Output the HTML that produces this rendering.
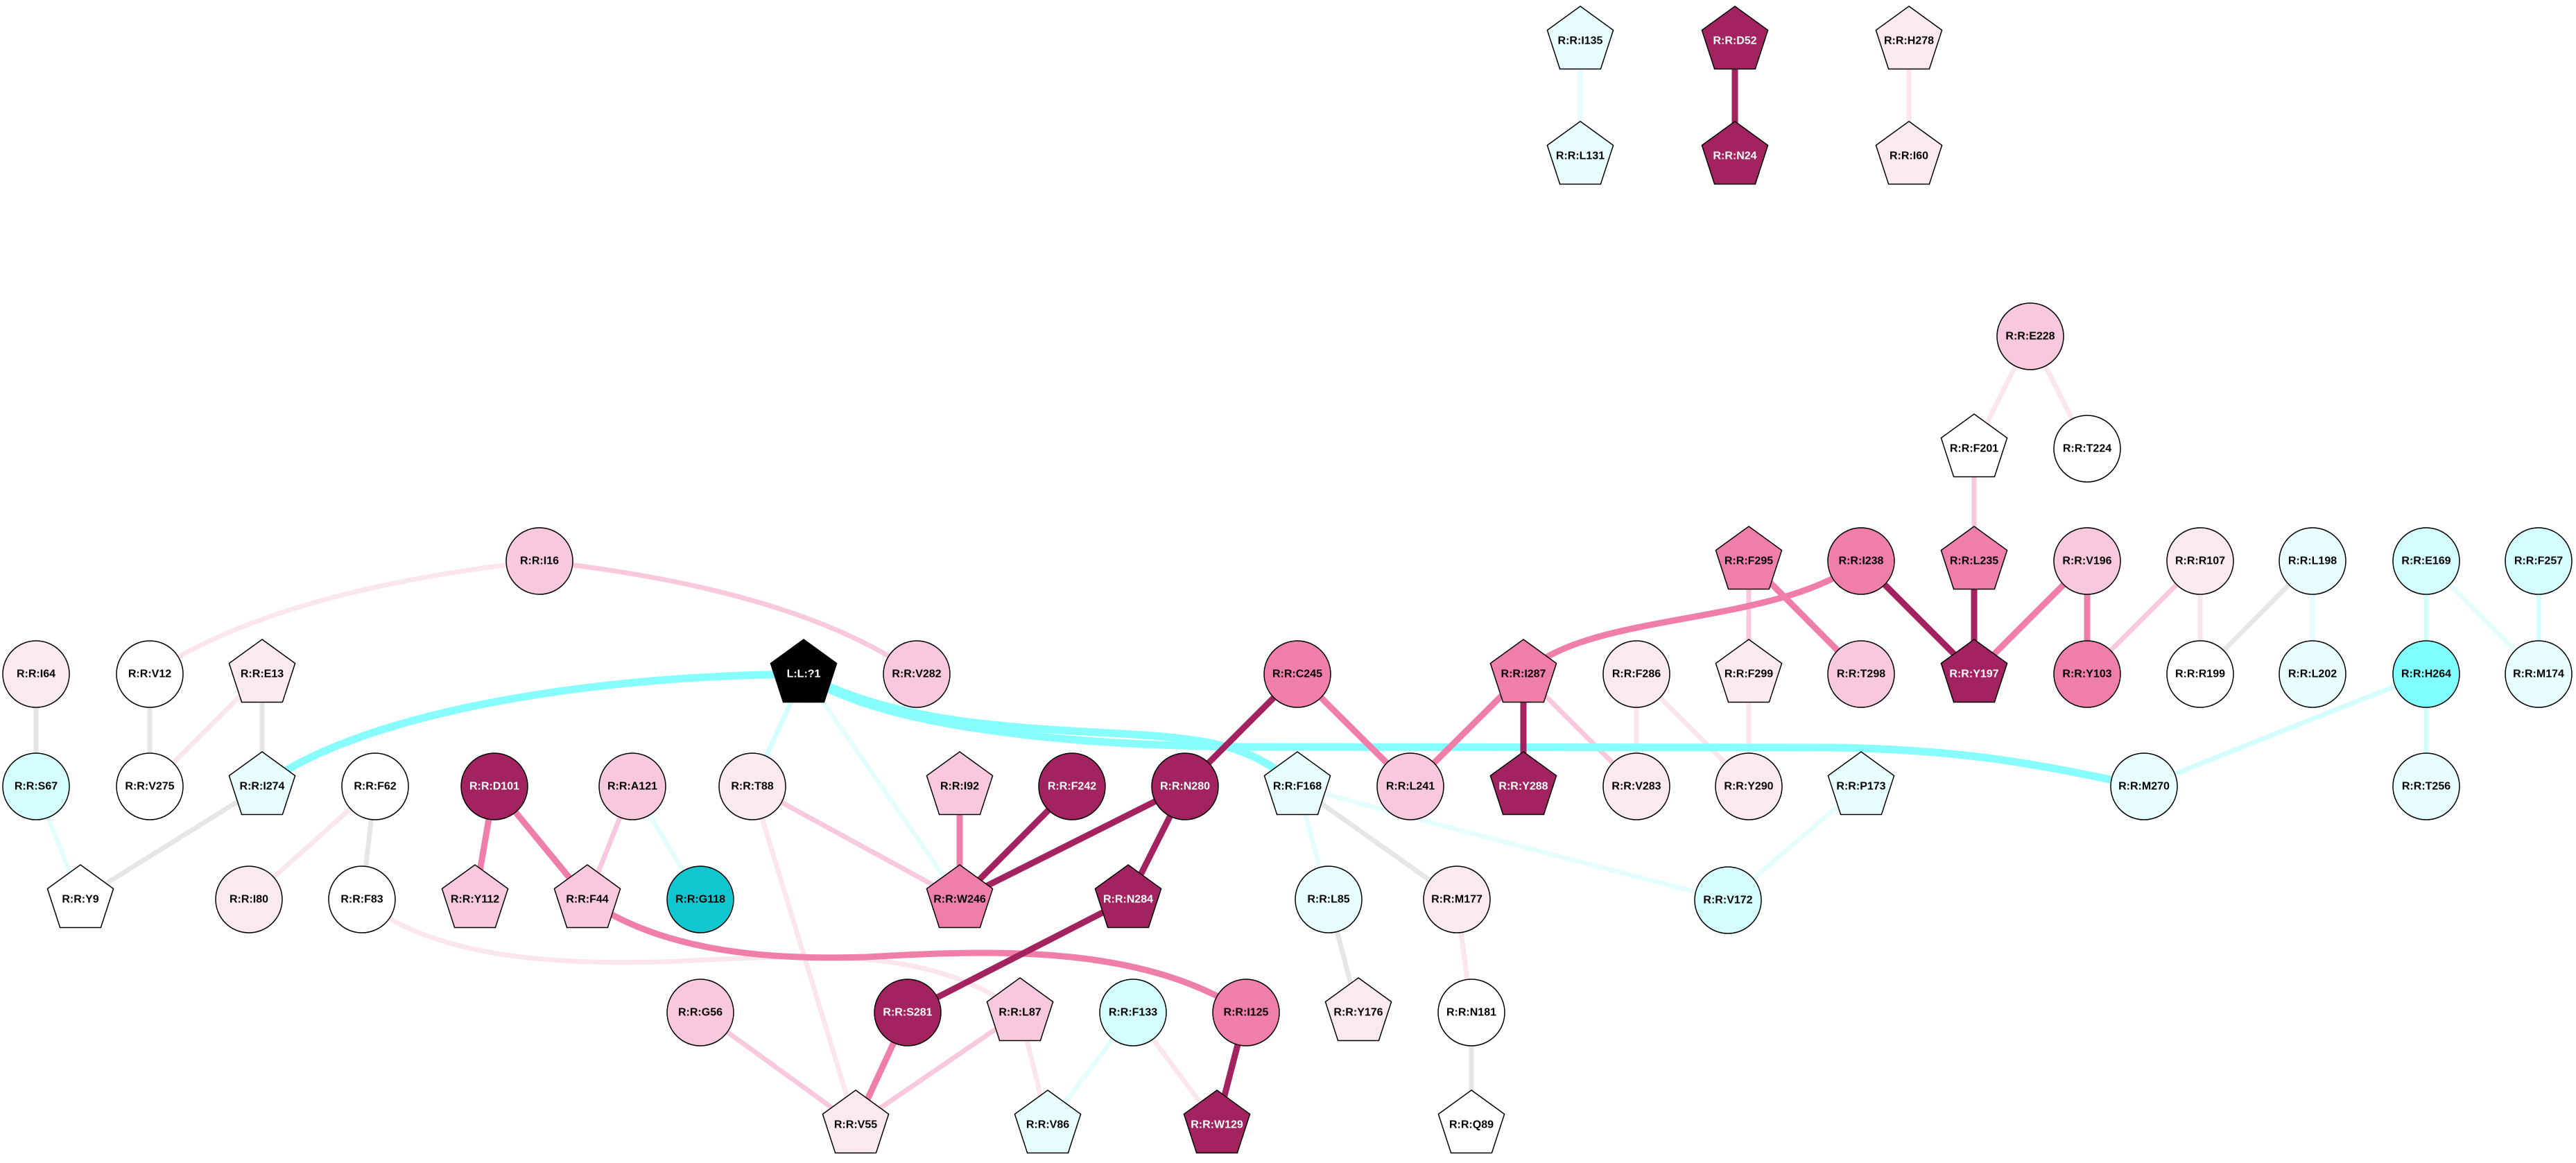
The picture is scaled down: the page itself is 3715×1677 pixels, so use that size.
<!DOCTYPE html>
<html><head><meta charset="utf-8"><style>
html,body{margin:0;padding:0;background:#fff}
svg{display:block}
text{font-family:"Liberation Sans",sans-serif;font-weight:bold;font-size:16px;text-anchor:middle;dominant-baseline:central}
.n{stroke:#000;stroke-width:1.5}
.e{fill:none;stroke-linecap:butt}
</style></head><body>
<svg width="3715" height="1677" viewBox="0 0 3715 1677" xmlns="http://www.w3.org/2000/svg">
<defs><polygon id="p" class="n" points="0,-50 47.6,-15.5 29.4,40.5 -29.4,40.5 -47.6,-15.5"/></defs>
<g class="e" stroke-width="7">
<!-- gray -->
<g stroke="#e6e6e6">
<line x1="52" y1="972" x2="52" y2="1134"/>
<line x1="216" y1="972" x2="216" y2="1134"/>
<line x1="378" y1="972" x2="378" y2="1134"/>
<line x1="378" y1="1134" x2="116" y2="1297"/>
<line x1="541" y1="1134" x2="522" y2="1297"/>
<line x1="1871" y1="1134" x2="2101" y2="1297"/>
<line x1="1916" y1="1297" x2="1959" y2="1460"/>
<line x1="2122" y1="1460" x2="2122" y2="1622"/>
<line x1="3335" y1="809" x2="3173" y2="972"/>
</g>
<!-- very light pink -->
<g stroke="#fbe6ee">
<line x1="378" y1="972" x2="216" y2="1134"/>
<path d="M778,809 Q400,850 216,972"/>
<line x1="541" y1="1134" x2="359" y2="1297"/>
<path d="M522,1297 C620,1380 800,1395 1000,1385 C1200,1375 1350,1370 1471,1460"/>
<line x1="1085" y1="1134" x2="1234" y2="1622"/>
<line x1="1471" y1="1460" x2="1511" y2="1622"/>
<line x1="1634" y1="1460" x2="1755" y2="1622"/>
<line x1="2101" y1="1297" x2="2122" y2="1460"/>
<line x1="2360" y1="972" x2="2360" y2="1134"/>
<line x1="2360" y1="972" x2="2522" y2="1134"/>
<line x1="2522" y1="972" x2="2522" y2="1134"/>
<line x1="3173" y1="809" x2="3173" y2="972"/>
<line x1="2928" y1="485" x2="2847" y2="647"/>
<line x1="2928" y1="485" x2="3010" y2="647"/>
<line x1="2753" y1="59" x2="2753" y2="225"/>
</g>
<!-- light pink -->
<g stroke="#f8c8dc">
<path d="M778,809 Q1150,850 1322,972"/>
<line x1="912" y1="1134" x2="847" y2="1297"/>
<line x1="1085" y1="1134" x2="1384" y2="1297"/>
<line x1="1010" y1="1460" x2="1234" y2="1622"/>
<line x1="1471" y1="1460" x2="1234" y2="1622"/>
<line x1="2197" y1="972" x2="2360" y2="1134"/>
<line x1="2522" y1="809" x2="2522" y2="972"/>
<line x1="3173" y1="809" x2="3010" y2="972"/>
<line x1="2847" y1="647" x2="2847" y2="809"/>
</g>
<!-- very light cyan -->
<g stroke="#e6fdfd">
<line x1="52" y1="1134" x2="116" y2="1297"/>
<line x1="912" y1="1134" x2="1010" y2="1297"/>
<line x1="1159" y1="972" x2="1384" y2="1297"/>
<line x1="1634" y1="1460" x2="1511" y2="1622"/>
<line x1="1871" y1="1134" x2="1916" y2="1297"/>
<path d="M1871,1134 Q2150,1210 2492,1298"/>
<line x1="2684" y1="1134" x2="2492" y2="1298"/>
<line x1="3335" y1="809" x2="3335" y2="972"/>
<line x1="3499" y1="809" x2="3661" y2="972"/>
<line x1="2279" y1="59" x2="2279" y2="225"/>
</g>
<!-- light cyan -->
<g stroke="#d4fdfd">
<line x1="1159" y1="972" x2="1085" y2="1134"/>
<line x1="3499" y1="809" x2="3499" y2="972"/>
<line x1="3661" y1="809" x2="3661" y2="972"/>
<line x1="3499" y1="972" x2="3499" y2="1134"/>
<path d="M3499,972 Q3300,1050 3092,1134"/>
</g>
</g>
<!-- cyan thick -->
<g class="e" stroke="#88fdfd" stroke-width="11">
<path d="M1159,972 C800,975 500,1040 378,1134"/>
<path d="M1159,972 C1250,1040 1500,1075 1800,1077 L2650,1078 C2850,1082 2950,1105 3092,1134"/>
<path d="M1159,972 C1300,1050 1500,1050 1650,1060 C1760,1068 1810,1080 1871,1134"/>
</g>
<!-- medium pink -->
<g class="e" stroke="#ef7ea9" stroke-width="9">
<line x1="713" y1="1134" x2="685" y2="1297"/>
<line x1="713" y1="1134" x2="847" y2="1297"/>
<path d="M847,1297 C950,1370 1100,1385 1250,1380 C1450,1368 1650,1365 1797,1460"/>
<line x1="1309" y1="1460" x2="1234" y2="1622"/>
<line x1="1384" y1="1134" x2="1384" y2="1297"/>
<line x1="1871" y1="972" x2="2034" y2="1134"/>
<line x1="2197" y1="972" x2="2034" y2="1134"/>
<path d="M2197,972 C2290,880 2560,905 2684,809"/>
<line x1="2522" y1="809" x2="2684" y2="972"/>
<line x1="3010" y1="809" x2="2847" y2="972"/>
<line x1="3010" y1="809" x2="3010" y2="972"/>
</g>
<!-- dark -->
<g class="e" stroke="#a2235f" stroke-width="9">
<line x1="1546" y1="1134" x2="1384" y2="1297"/>
<line x1="1709" y1="1134" x2="1384" y2="1297"/>
<line x1="1709" y1="1134" x2="1627" y2="1297"/>
<line x1="1871" y1="972" x2="1709" y2="1134"/>
<line x1="1627" y1="1297" x2="1309" y2="1460"/>
<line x1="1797" y1="1460" x2="1755" y2="1622"/>
<line x1="2197" y1="972" x2="2197" y2="1134"/>
<line x1="2684" y1="809" x2="2847" y2="972"/>
<line x1="2847" y1="809" x2="2847" y2="972"/>
<line x1="2502" y1="59" x2="2502" y2="225"/>
</g>

<!-- nodes -->
<g>
<ellipse class="n" cx="778" cy="809" rx="48" ry="48" fill="#f8c8dc"/><text x="778" y="809">R:R:I16</text>
<ellipse class="n" cx="52" cy="972" rx="48" ry="48" fill="#fbe9f1"/><text x="52" y="972">R:R:I64</text>
<ellipse class="n" cx="216" cy="972" rx="48" ry="48" fill="#fff"/><text x="216" y="972">R:R:V12</text>
<use href="#p" x="378" y="972" fill="#fbe9f1"/><text x="378" y="972">R:R:E13</text>
<use href="#p" x="1159" y="972" fill="#000"/><text x="1159" y="972" fill="#fff">L:L:?1</text>
<ellipse class="n" cx="1322" cy="972" rx="48" ry="48" fill="#f8c8dc"/><text x="1322" y="972">R:R:V282</text>
<ellipse class="n" cx="1871" cy="972" rx="48" ry="48" fill="#ef7ea9"/><text x="1871" y="972">R:R:C245</text>
<use href="#p" x="2197" y="972" fill="#ef7ea9"/><text x="2197" y="972">R:R:I287</text>
<ellipse class="n" cx="2360" cy="972" rx="48" ry="48" fill="#fbe9f1"/><text x="2360" y="972">R:R:F286</text>

<ellipse class="n" cx="52" cy="1134" rx="48" ry="48" fill="#d4fefe"/><text x="52" y="1134">R:R:S67</text>
<ellipse class="n" cx="216" cy="1134" rx="48" ry="48" fill="#fff"/><text x="216" y="1134">R:R:V275</text>
<use href="#p" x="378" y="1134" fill="#e8fefe"/><text x="378" y="1134">R:R:I274</text>
<ellipse class="n" cx="541" cy="1134" rx="48" ry="48" fill="#fff"/><text x="541" y="1134">R:R:F62</text>
<ellipse class="n" cx="713" cy="1134" rx="48" ry="48" fill="#a2235f"/><text x="713" y="1134" fill="#fff">R:R:D101</text>
<ellipse class="n" cx="912" cy="1134" rx="48" ry="48" fill="#f8c8dc"/><text x="912" y="1134">R:R:A121</text>
<ellipse class="n" cx="1085" cy="1134" rx="48" ry="48" fill="#fbe9f1"/><text x="1085" y="1134">R:R:T88</text>
<use href="#p" x="1384" y="1134" fill="#f8c8dc"/><text x="1384" y="1134">R:R:I92</text>
<ellipse class="n" cx="1546" cy="1134" rx="48" ry="48" fill="#a2235f"/><text x="1546" y="1134" fill="#fff">R:R:F242</text>
<ellipse class="n" cx="1709" cy="1134" rx="48" ry="48" fill="#a2235f"/><text x="1709" y="1134" fill="#fff">R:R:N280</text>
<use href="#p" x="1871" y="1134" fill="#e8fefe"/><text x="1871" y="1134">R:R:F168</text>
<ellipse class="n" cx="2034" cy="1134" rx="48" ry="48" fill="#f8c8dc"/><text x="2034" y="1134">R:R:L241</text>
<use href="#p" x="2197" y="1134" fill="#a2235f"/><text x="2197" y="1134" fill="#fff">R:R:Y288</text>
<ellipse class="n" cx="2360" cy="1134" rx="48" ry="48" fill="#fbe9f1"/><text x="2360" y="1134">R:R:V283</text>

<use href="#p" x="116" y="1297" fill="#fff"/><text x="116" y="1297">R:R:Y9</text>
<ellipse class="n" cx="359" cy="1297" rx="48" ry="48" fill="#fbe9f1"/><text x="359" y="1297">R:R:I80</text>
<ellipse class="n" cx="522" cy="1297" rx="48" ry="48" fill="#fff"/><text x="522" y="1297">R:R:F83</text>
<use href="#p" x="685" y="1297" fill="#f8c8dc"/><text x="685" y="1297">R:R:Y112</text>
<use href="#p" x="847" y="1297" fill="#f8c8dc"/><text x="847" y="1297">R:R:F44</text>
<ellipse class="n" cx="1010" cy="1297" rx="48" ry="48" fill="#10c6cf"/><text x="1010" y="1297">R:R:G118</text>
<use href="#p" x="1384" y="1297" fill="#ef7ea9"/><text x="1384" y="1297">R:R:W246</text>
<use href="#p" x="1627" y="1297" fill="#a2235f"/><text x="1627" y="1297" fill="#fff">R:R:N284</text>
<ellipse class="n" cx="1916" cy="1297" rx="48" ry="48" fill="#e8fefe"/><text x="1916" y="1297">R:R:L85</text>
<ellipse class="n" cx="2101" cy="1297" rx="48" ry="48" fill="#fbe9f1"/><text x="2101" y="1297">R:R:M177</text>
<ellipse class="n" cx="2492" cy="1298" rx="48" ry="48" fill="#d4fefe"/><text x="2492" y="1298">R:R:V172</text>

<ellipse class="n" cx="1010" cy="1460" rx="48" ry="48" fill="#f8c8dc"/><text x="1010" y="1460">R:R:G56</text>
<ellipse class="n" cx="1309" cy="1460" rx="48" ry="48" fill="#a2235f"/><text x="1309" y="1460" fill="#fff">R:R:S281</text>
<use href="#p" x="1471" y="1460" fill="#f8c8dc"/><text x="1471" y="1460">R:R:L87</text>
<ellipse class="n" cx="1634" cy="1460" rx="48" ry="48" fill="#d4fefe"/><text x="1634" y="1460">R:R:F133</text>
<ellipse class="n" cx="1797" cy="1460" rx="48" ry="48" fill="#ef7ea9"/><text x="1797" y="1460">R:R:I125</text>
<use href="#p" x="1959" y="1460" fill="#fbe9f1"/><text x="1959" y="1460">R:R:Y176</text>
<ellipse class="n" cx="2122" cy="1460" rx="48" ry="48" fill="#fff"/><text x="2122" y="1460">R:R:N181</text>

<use href="#p" x="1234" y="1622" fill="#fbe9f1"/><text x="1234" y="1622">R:R:V55</text>
<use href="#p" x="1511" y="1622" fill="#e8fefe"/><text x="1511" y="1622">R:R:V86</text>
<use href="#p" x="1755" y="1622" fill="#a2235f"/><text x="1755" y="1622" fill="#fff">R:R:W129</text>
<use href="#p" x="2122" y="1622" fill="#fff"/><text x="2122" y="1622">R:R:Q89</text>

<!-- right cluster -->
<ellipse class="n" cx="2928" cy="485" rx="48" ry="48" fill="#f8c8dc"/><text x="2928" y="485">R:R:E228</text>
<use href="#p" x="2847" y="647" fill="#fff"/><text x="2847" y="647">R:R:F201</text>
<ellipse class="n" cx="3010" cy="647" rx="48" ry="48" fill="#fff"/><text x="3010" y="647">R:R:T224</text>

<use href="#p" x="2522" y="809" fill="#ef7ea9"/><text x="2522" y="809">R:R:F295</text>
<ellipse class="n" cx="2684" cy="809" rx="48" ry="48" fill="#ef7ea9"/><text x="2684" y="809">R:R:I238</text>
<use href="#p" x="2847" y="809" fill="#ef7ea9"/><text x="2847" y="809">R:R:L235</text>
<ellipse class="n" cx="3010" cy="809" rx="48" ry="48" fill="#f8c8dc"/><text x="3010" y="809">R:R:V196</text>
<ellipse class="n" cx="3173" cy="809" rx="48" ry="48" fill="#fbe9f1"/><text x="3173" y="809">R:R:R107</text>
<ellipse class="n" cx="3335" cy="809" rx="48" ry="48" fill="#e8fefe"/><text x="3335" y="809">R:R:L198</text>
<ellipse class="n" cx="3499" cy="809" rx="48" ry="48" fill="#d4fefe"/><text x="3499" y="809">R:R:E169</text>
<ellipse class="n" cx="3661" cy="809" rx="48" ry="48" fill="#d4fefe"/><text x="3661" y="809">R:R:F257</text>

<use href="#p" x="2522" y="972" fill="#fbe9f1"/><text x="2522" y="972">R:R:F299</text>
<ellipse class="n" cx="2684" cy="972" rx="48" ry="48" fill="#f8c8dc"/><text x="2684" y="972">R:R:T298</text>
<use href="#p" x="2847" y="972" fill="#a2235f"/><text x="2847" y="972" fill="#fff">R:R:Y197</text>
<ellipse class="n" cx="3010" cy="972" rx="48" ry="48" fill="#ef7ea9"/><text x="3010" y="972">R:R:Y103</text>
<ellipse class="n" cx="3173" cy="972" rx="48" ry="48" fill="#fff"/><text x="3173" y="972">R:R:R199</text>
<ellipse class="n" cx="3335" cy="972" rx="48" ry="48" fill="#e8fefe"/><text x="3335" y="972">R:R:L202</text>
<ellipse class="n" cx="3499" cy="972" rx="48" ry="48" fill="#80ffff"/><text x="3499" y="972">R:R:H264</text>
<ellipse class="n" cx="3661" cy="972" rx="48" ry="48" fill="#e8fefe"/><text x="3661" y="972">R:R:M174</text>

<ellipse class="n" cx="2522" cy="1134" rx="48" ry="48" fill="#fbe9f1"/><text x="2522" y="1134">R:R:Y290</text>
<use href="#p" x="2684" y="1134" fill="#e8fefe"/><text x="2684" y="1134">R:R:P173</text>
<ellipse class="n" cx="3092" cy="1134" rx="48" ry="48" fill="#e8fefe"/><text x="3092" y="1134">R:R:M270</text>
<ellipse class="n" cx="3499" cy="1134" rx="48" ry="48" fill="#e8fefe"/><text x="3499" y="1134">R:R:T256</text>

<!-- top pairs -->
<use href="#p" x="2279" y="59" fill="#e8fefe"/><text x="2279" y="59">R:R:I135</text>
<use href="#p" x="2279" y="225" fill="#e8fefe"/><text x="2279" y="225">R:R:L131</text>
<use href="#p" x="2502" y="59" fill="#a2235f"/><text x="2502" y="59" fill="#fff">R:R:D52</text>
<use href="#p" x="2502" y="225" fill="#a2235f"/><text x="2502" y="225" fill="#fff">R:R:N24</text>
<use href="#p" x="2753" y="59" fill="#fbe9f1"/><text x="2753" y="59">R:R:H278</text>
<use href="#p" x="2753" y="225" fill="#fbe9f1"/><text x="2753" y="225">R:R:I60</text>
</g>
</svg>
</body></html>
